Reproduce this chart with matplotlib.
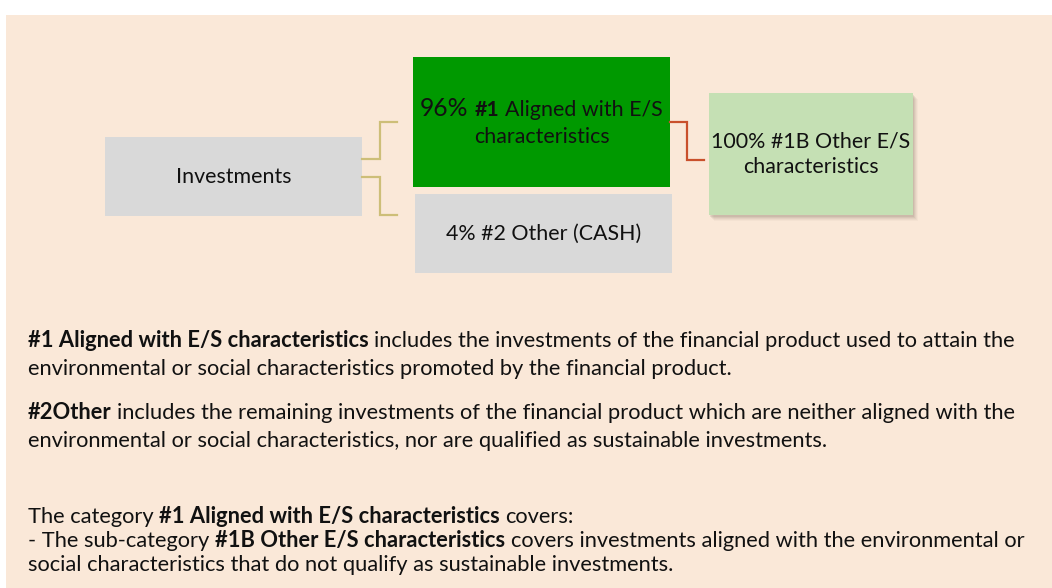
import matplotlib
matplotlib.use("Agg")
import matplotlib.pyplot as plt
from matplotlib.patches import Rectangle

# ---------------- data ----------------
node_names = ["Investments", "#1 Aligned with E/S characteristics",
              "#2 Other (CASH)", "#1B Other E/S characteristics"]
node_shares = [None, 96, 4, 100]

para1 = [[("#1 Aligned with E/S characteristics", True),
          (" includes the investments of the financial product used to attain the", False)],
         [("environmental or social characteristics promoted by the financial product.", False)]]
para2 = [[("#2Other", True),
          (" includes the remaining investments of the financial product which are neither aligned with the", False)],
         [("environmental or social characteristics, nor are qualified as sustainable investments.", False)]]
para3 = [[("The category ", False), ("#1 Aligned with E/S characteristics", True), (" covers:", False)],
         [("- The sub-category ", False), ("#1B Other E/S characteristics", True),
          (" covers investments aligned with the environmental or", False)],
         [("social characteristics that do not qualify as sustainable investments.", False)]]

# ---------------- style ----------------
FONT = "Lato"
TXT = "#111111"
BEIGE = "#FAE8D8"
GREEN = "#009900"
LGREEN = "#C5E0B4"
GREY = "#D9D9D9"
TAN = "#CDBE78"
RED = "#C9502C"

W, H = 1052, 588
fig = plt.figure(figsize=(W / 100, H / 100), dpi=100)
fig.patch.set_facecolor("white")
ax = fig.add_axes([0, 0, 1, 1])
ax.set_xlim(0, W)
ax.set_ylim(H, 0)
ax.axis("off")
renderer = fig.canvas.get_renderer()


def tw(s, size, bold=False):
    t = ax.text(0, 0, s, fontsize=size, fontweight="bold" if bold else "normal", family=FONT)
    w = t.get_window_extent(renderer).width
    t.remove()
    return w


def sw(size, bold=False):
    return tw("a a", size, bold) - tw("aa", size, bold)


def runs_width(runs, size):
    total = 0
    for r in runs:
        text, bold = r[0], r[1]
        sc = r[2] if len(r) > 2 else 1.0
        s = size * sc
        lead = len(text) - len(text.lstrip(" "))
        trail = len(text) - len(text.rstrip(" "))
        core = text.strip(" ")
        total += (lead + trail) * sw(s, bold)
        if core:
            total += tw(core, s, bold)
    return total


def draw_runs(x, y, runs, size, ha="left", color=TXT):
    if ha == "center":
        x -= runs_width(runs, size) / 2
    for r in runs:
        text, bold = r[0], r[1]
        sc = r[2] if len(r) > 2 else 1.0
        s = size * sc
        lead = len(text) - len(text.lstrip(" "))
        trail = len(text) - len(text.rstrip(" "))
        core = text.strip(" ")
        x += lead * sw(s, bold)
        if core:
            ax.text(x, y, core, fontsize=s, fontweight="bold" if bold else "normal",
                    family=FONT, va="baseline", ha="left", color=color)
            x += tw(core, s, bold)
        x += trail * sw(s, bold)


# background panel
ax.add_patch(Rectangle((6, 15), W - 6, H - 15, facecolor=BEIGE, edgecolor="none", zorder=0))

# boxes: (x0, y0, x1, y1)
b_inv = (105, 137, 362, 216)
b_al = (413, 57, 670, 187)
b_oth = (415, 194, 672, 273)
b_1b = (709, 93, 913, 215)


def box(b, color, z=2):
    ax.add_patch(Rectangle((b[0], b[1]), b[2] - b[0], b[3] - b[1], facecolor=color,
                           edgecolor="none", zorder=z))


# shadow of 1B box
for i, a in zip([6, 5, 4, 3, 2], [0.05, 0.07, 0.09, 0.12, 0.15]):
    ax.add_patch(Rectangle((b_1b[0] + i - 1, b_1b[1] + i), b_1b[2] - b_1b[0], b_1b[3] - b_1b[1],
                           facecolor="#8a7a6a", edgecolor="none", alpha=a, zorder=1))

box(b_inv, GREY)
box(b_al, GREEN)
box(b_oth, GREY)
box(b_1b, LGREEN)

# connectors
ax.plot([362, 379.5, 379.5, 396.5], [159, 159, 121.5, 121.5], color=TAN, lw=1.6, zorder=3,
        solid_joinstyle="miter")
ax.plot([362, 379.5, 379.5, 396.5], [177, 177, 214.5, 214.5], color=TAN, lw=1.6, zorder=3,
        solid_joinstyle="miter")
ax.plot([670, 687, 687, 704], [121.5, 121.5, 159.5, 159.5], color=RED, lw=1.6, zorder=3,
        solid_joinstyle="miter")

# box text
bsize = 12 * 194 / runs_width([(f"{node_shares[2]}% #2 Other (CASH)", False)], 12)
draw_runs((b_inv[0] + b_inv[2]) / 2, 183, [(node_names[0], False)], bsize, ha="center")
draw_runs((b_al[0] + b_al[2]) / 2, 116.5,
          [(f"{node_shares[1]}% ", False, 1.15), ("#1", True), (" Aligned with E/S", False)],
          bsize, ha="center")
draw_runs((b_al[0] + b_al[2]) / 2, 143, [("characteristics", False)], bsize, ha="center")
draw_runs((b_oth[0] + b_oth[2]) / 2, 240, [(f"{node_shares[2]}% #2 Other (CASH)", False)],
          bsize, ha="center")
draw_runs((b_1b[0] + b_1b[2]) / 2, 147, [(f"{node_shares[3]}% #1B Other E/S", False)],
          bsize, ha="center")
draw_runs((b_1b[0] + b_1b[2]) / 2, 173, [("characteristics", False)], bsize, ha="center")

# paragraphs
psize = 12 * 985 / runs_width(para1[0], 12)
lines = para1 + para2 + para3
baselines = [347, 375, 419, 447, 523, 547, 571]
for runs, yb in zip(lines, baselines):
    draw_runs(28, yb, runs, psize)

fig.savefig("out.png", dpi=100, facecolor=fig.get_facecolor())
